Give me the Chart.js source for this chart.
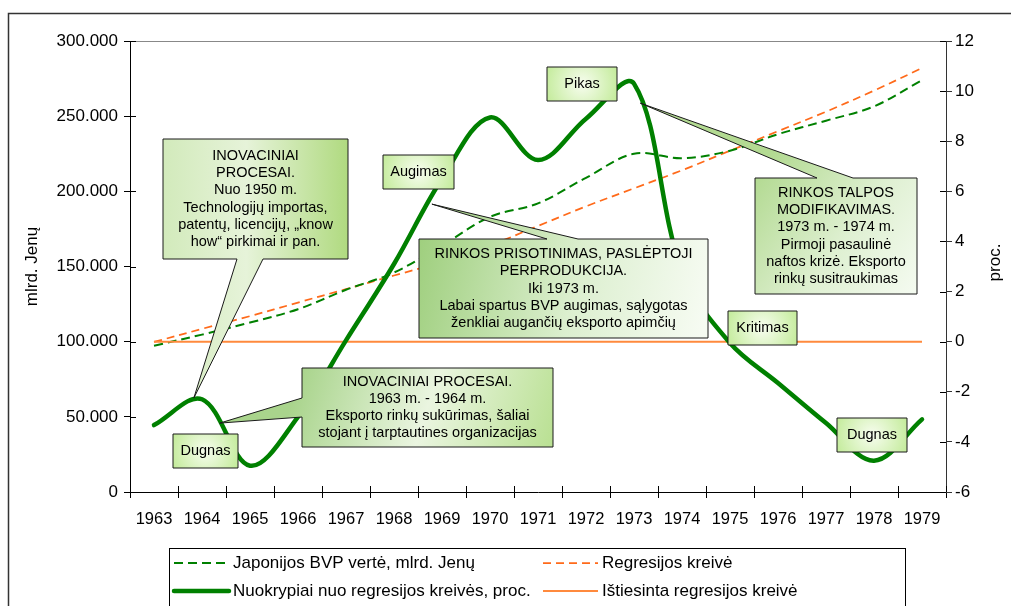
<!DOCTYPE html>
<html>
<head>
<meta charset="utf-8">
<script src="https://cdn.jsdelivr.net/npm/chart.js@4.4.1/dist/chart.umd.min.js"></script>
<style>
html, body { margin: 0; padding: 0; background: #fff; }
canvas { display: block; }
</style>
</head>
<body>
<canvas id="chart" width="1011" height="606"></canvas>
<script>
// metai (kategorijos)
var years = ['1963', '1964', '1965', '1966', '1967', '1968', '1969', '1970', '1971',
             '1972', '1973', '1974', '1975', '1976', '1977', '1978', '1979'];
// Japonijos BVP vertė, mlrd. Jenų (kairė ašis)
var bvp = [97300, 104700, 112700, 121600, 134500, 146000, 164000, 183000, 192000,
           209000, 225000, 222000, 227000, 238000, 247000, 256500, 274000];
// Regresijos kreivė (kairė ašis)
var regresija = [99800, 108500, 117000, 126000, 135000, 144000, 153000, 164000, 177000,
                 190000, 202000, 214000, 227000, 240000, 253000, 267000, 282000];
// Nuokrypiai nuo regresijos kreivės, proc. (dešinė ašis)
var nuokrypiai = [-3.33, -2.3, -4.95, -3.0, 0.05, 3.1, 6.5, 8.95, 7.25,
                  8.9, 10.3, 2.8, -0.05, -1.65, -3.25, -4.75, -3.1];
// Ištiesinta regresijos kreivė (0 proc.)
var istiesinta = [0, 0, 0, 0, 0, 0, 0, 0, 0, 0, 0, 0, 0, 0, 0, 0, 0];

var FONT = '"Liberation Sans", Arial, sans-serif';
Chart.defaults.font.family = FONT;
Chart.defaults.color = '#000';

function toPoints(arr) {
    return arr.map(function (v, i) { return { x: Number(years[i]), y: v }; });
}

// callout boxes: rect in page pixels, tip anchored to (year, proc.)
var callouts = [
    { lines: ['INOVACINIAI', 'PROCESAI.', 'Nuo 1950 m.', 'Technologijų importas,', 'patentų, licencijų, „know', 'how“ pirkimai ir pan.'],
      x: 163, y: 139, w: 185, h: 120, side: 'bottom', base: [237, 263], tip: [1963.83, -2.25],
      g: [0, 0, 1, 0], stops: [[0, '#d2eabb'], [0.45, '#e6f3d9'], [1, '#b0da80']] },
    { lines: ['INOVACINIAI PROCESAI.', '1963 m. - 1964 m.', 'Eksporto rinkų sukūrimas, šaliai', 'stojant į tarptautines organizacijas'],
      x: 302, y: 368, w: 251, h: 79, side: 'left', base: [398, 417], tip: [1964.37, -3.25],
      g: [0, 0, 1, 1], stops: [[0, '#a9d48c'], [0.5, '#eaf5e0'], [1, '#b9e092']] },
    { lines: ['Augimas'], x: 383, y: 155, w: 71, h: 34, fill: 'radial' },
    { lines: ['RINKOS PRISOTINIMAS, PASLĖPTOJI', 'PERPRODUKCIJA.', 'Iki 1973 m.', 'Labai spartus BVP augimas, sąlygotas', 'ženkliai augančių eksporto apimčių'],
      x: 419, y: 239, w: 289, h: 99, side: 'top', base: [547, 578], tip: [1968.79, 5.49],
      g: [0, 0, 1, 0.6], stops: [[0, '#9fcf7e'], [0.55, '#dcefcf'], [1, '#f6fbf2']] },
    { lines: ['Pikas'], x: 547, y: 67, w: 70, h: 34, fill: 'radial' },
    { lines: ['RINKOS TALPOS', 'MODIFIKAVIMAS.', '1973 m. - 1974 m.', 'Pirmoji pasaulinė', 'naftos krizė. Eksporto', 'rinkų susitraukimas'],
      x: 755, y: 178, w: 162, h: 116, side: 'top', base: [817, 853], tip: [1973.13, 9.52],
      g: [0, 0, 1, 1], stops: [[0, '#b3da92'], [0.55, '#dff0d2'], [1, '#f5fbf1']] },
    { lines: ['Kritimas'], x: 728, y: 311, w: 69, h: 34, fill: 'radial' },
    { lines: ['Dugnas'], x: 173, y: 434, w: 65, h: 34, fill: 'radial' },
    { lines: ['Dugnas'], x: 837, y: 418, w: 70, h: 34, fill: 'radial' }
];

function calloutPath(ctx, c, tip) {
    var l = c.x, t = c.y, r = c.x + c.w, b = c.y + c.h;
    ctx.beginPath();
    ctx.moveTo(l, t);
    if (c.side === 'top') { ctx.lineTo(c.base[0], t); ctx.lineTo(tip.x, tip.y); ctx.lineTo(c.base[1], t); }
    ctx.lineTo(r, t);
    ctx.lineTo(r, b);
    if (c.side === 'bottom') { ctx.lineTo(c.base[1], b); ctx.lineTo(tip.x, tip.y); ctx.lineTo(c.base[0], b); }
    ctx.lineTo(l, b);
    if (c.side === 'left') { ctx.lineTo(l, c.base[1]); ctx.lineTo(tip.x, tip.y); ctx.lineTo(l, c.base[0]); }
    ctx.closePath();
}

function boxFill(ctx, c) {
    var g;
    if (c.fill === 'radial') {
        var cx = c.x + c.w / 2, cy = c.y + c.h / 2;
        g = ctx.createRadialGradient(cx, cy, 0, cx, cy, c.w * 0.55);
        g.addColorStop(0, '#f7fdef');
        g.addColorStop(1, '#c3eb9a');
    } else {
        g = ctx.createLinearGradient(c.x + c.g[0] * c.w, c.y + c.g[1] * c.h, c.x + c.g[2] * c.w, c.y + c.g[3] * c.h);
        c.stops.forEach(function (s) { g.addColorStop(s[0], s[1]); });
    }
    return g;
}

var decorPlugin = {
    id: 'decor',
    beforeDraw: function (chart) {
        var ctx = chart.ctx;
        ctx.save();
        ctx.fillStyle = '#fff';
        ctx.fillRect(0, 0, chart.width, chart.height);
        ctx.strokeStyle = '#333';
        ctx.lineWidth = 1.5;
        ctx.strokeRect(8.5, 13.5, chart.width, chart.height);
        ctx.restore();
    },
    afterDatasetsDraw: function (chart) {
        var ctx = chart.ctx;
        var xs = chart.scales.xv, ys = chart.scales.y1;
        ctx.save();
        callouts.forEach(function (c) {
            var tip = c.tip ? { x: xs.getPixelForValue(c.tip[0]), y: ys.getPixelForValue(c.tip[1]) } : null;
            calloutPath(ctx, c, tip);
            ctx.fillStyle = boxFill(ctx, c);
            ctx.fill();
            ctx.strokeStyle = '#1a1a1a';
            ctx.lineWidth = 1;
            ctx.stroke();
            ctx.fillStyle = '#000';
            ctx.font = '14.5px ' + FONT;
            ctx.textAlign = 'center';
            ctx.textBaseline = 'middle';
            var lh = 17.2;
            var y0 = c.y + (c.h - lh * c.lines.length) / 2 + lh / 2;
            c.lines.forEach(function (s, i) {
                ctx.fillText(s, c.x + c.w / 2, y0 + i * lh);
            });
        });
        ctx.restore();
    },
    afterDraw: function (chart) {
        var ctx = chart.ctx, a = chart.chartArea;
        var xs = chart.scales.xv;
        ctx.save();
        // top border of plot
        ctx.strokeStyle = '#888';
        ctx.lineWidth = 1;
        ctx.beginPath();
        ctx.moveTo(a.left, a.top + 0.5);
        ctx.lineTo(a.right, a.top + 0.5);
        ctx.stroke();
        // inner halves of the cross ticks
        ctx.strokeStyle = '#000';
        ctx.beginPath();
        chart.scales.y.ticks.forEach(function (t) {
            var y = Math.round(chart.scales.y.getPixelForValue(t.value)) + 0.5;
            ctx.moveTo(a.left, y); ctx.lineTo(a.left + 6, y);
        });
        chart.scales.y1.ticks.forEach(function (t) {
            var y = Math.round(chart.scales.y1.getPixelForValue(t.value)) + 0.5;
            ctx.moveTo(a.right - 6, y); ctx.lineTo(a.right, y);
        });
        for (var i = 0; i <= years.length; i++) {
            var x = Math.round(xs.getPixelForValue(Number(years[0]) - 0.5 + i)) + 0.5;
            ctx.moveTo(x, a.bottom - 6); ctx.lineTo(x, a.bottom);
        }
        ctx.stroke();

        // right axis title
        ctx.fillStyle = '#000';
        ctx.font = '17px ' + FONT;
        ctx.textAlign = 'center';
        ctx.textBaseline = 'middle';
        ctx.translate(995, (a.top + a.bottom) / 2 - 4);
        ctx.rotate(-Math.PI / 2);
        ctx.fillText('proc.', 0, 0);
        ctx.setTransform(1, 0, 0, 1, 0, 0);

        // legend
        ctx.strokeStyle = '#000';
        ctx.lineWidth = 1;
        ctx.strokeRect(169.5, 548.5, 736, 100);
        var cols = [174, 543], rows = [563, 591];
        chart.data.datasets.forEach(function (ds, i) {
            var lx = cols[i % 2], ly = rows[Math.floor(i / 2)];
            ctx.strokeStyle = ds.borderColor;
            ctx.lineWidth = ds.borderWidth;
            ctx.lineCap = ds.borderWidth > 3 ? 'round' : 'butt';
            ctx.setLineDash(ds.borderDash || []);
            ctx.beginPath();
            ctx.moveTo(lx, ly); ctx.lineTo(lx + 55, ly);
            ctx.stroke();
            ctx.setLineDash([]);
            ctx.fillStyle = '#000';
            ctx.textAlign = 'left';
            ctx.font = '17px ' + FONT;
            ctx.fillText(ds.label, lx + 59, ly);
        });
        ctx.restore();
    }
};

var ctx = document.getElementById('chart');
var myChart = new Chart(ctx, {
    type: 'line',
    data: {
        labels: years,
        datasets: [{
            label: 'Japonijos BVP vertė, mlrd. Jenų',
            data: toPoints(bvp),
            xAxisID: 'xv', yAxisID: 'y',
            borderColor: '#008000', borderWidth: 2, borderDash: [9, 5],
            tension: 0.35, pointRadius: 0, order: 2
        }, {
            label: 'Regresijos kreivė',
            data: toPoints(regresija),
            xAxisID: 'xv', yAxisID: 'y',
            borderColor: '#ff6a1a', borderWidth: 1.75, borderDash: [8, 5],
            tension: 0.35, pointRadius: 0, order: 3
        }, {
            label: 'Nuokrypiai nuo regresijos kreivės, proc.',
            data: toPoints(nuokrypiai),
            xAxisID: 'xv', yAxisID: 'y1',
            borderColor: '#008000', borderWidth: 4.5,
            borderCapStyle: 'round', borderJoinStyle: 'round',
            tension: 0.35, pointRadius: 0, order: 0
        }, {
            label: 'Ištiesinta regresijos kreivė',
            data: toPoints(istiesinta),
            xAxisID: 'xv', yAxisID: 'y1',
            borderColor: '#ff8a3d', borderWidth: 2,
            tension: 0, pointRadius: 0, order: 1
        }]
    },
    options: {
        responsive: false,
        animation: false,
        devicePixelRatio: 1,
        layout: { padding: { top: 41, left: 0, right: 0, bottom: 0 } },
        plugins: { legend: { display: false }, tooltip: { enabled: false } },
        scales: {
            x: {
                type: 'category',
                position: 'bottom',
                offset: true,
                grid: { offset: true, drawOnChartArea: false, tickLength: 6, color: '#000' },
                border: { color: '#000', width: 1 },
                ticks: { font: { size: 16.5 }, color: '#000', padding: 12, maxRotation: 0, autoSkip: false },
                afterFit: function (s) { s.height = 114; }
            },
            xv: {
                type: 'linear',
                display: false,
                min: Number(years[0]) - 0.5,
                max: Number(years[years.length - 1]) + 0.5
            },
            y: {
                position: 'left',
                min: 0, max: 300000,
                ticks: {
                    stepSize: 50000, font: { size: 17 }, color: '#000', padding: 6,
                    callback: function (v) { return v === 0 ? '0' : (v / 1000) + '.000'; }
                },
                grid: { drawOnChartArea: false, tickLength: 6, color: '#000' },
                border: { color: '#000', width: 1 },
                title: { display: true, text: 'mlrd. Jenų', font: { size: 17 }, color: '#000', padding: { top: 22, bottom: 0 } },
                afterFit: function (s) { s.width = 130; }
            },
            y1: {
                position: 'right',
                min: -6, max: 12,
                ticks: { stepSize: 2, font: { size: 17 }, color: '#000', padding: 3 },
                grid: { drawOnChartArea: false, tickLength: 6, color: '#333' },
                border: { color: '#333', width: 1 },
                afterFit: function (s) { s.width = 65; }
            }
        }
    },
    plugins: [decorPlugin]
});
</script>
</body>
</html>
